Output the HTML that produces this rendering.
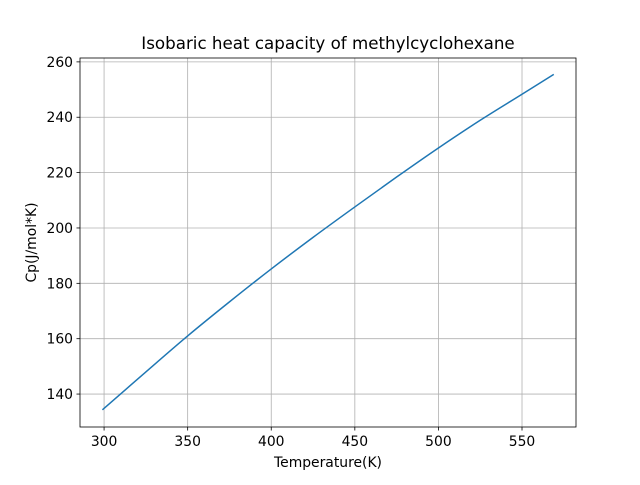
<!DOCTYPE html>
<html><head><meta charset="utf-8"><style>
body{margin:0;background:#fff;}
svg text{font-family:"DejaVu Sans","Liberation Sans",sans-serif;fill:#000;}
</style></head><body>
<svg id="chart" width="640" height="480" viewBox="0 0 640 480">
<rect width="640" height="480" fill="#fff"/>
<g id="grid"></g>
<g id="ticks"></g>
<path id="line" fill="none" stroke="#1f77b4" stroke-width="1.5"/>
<rect x="80" y="58" width="496" height="369" fill="none" stroke="#000" stroke-width="0.8"/>
<text x="328" y="49" text-anchor="middle" font-size="16.7">Isobaric heat capacity of methylcyclohexane</text>
<text x="328" y="467" text-anchor="middle" font-size="13.9">Temperature(K)</text>
<text transform="translate(36,242.5) rotate(-90)" text-anchor="middle" font-size="13.9">Cp(J/mol*K)</text>
</svg>
<script>
const temps=[299,325,350,375,400,425,450,475,500,525,550,569];
const cpValues=[134.3,148.0,161.0,173.3,185.2,196.6,207.6,218.4,228.9,238.9,248.3,255.5];
const xTicks=[300,350,400,450,500,550];
const yTicks=[140,160,180,200,220,240,260];
const X0=80,X1=576,Y0=427,Y1=58,xmin=285.6,xmax=582.3,ymin=128.1,ymax=261.4;
function sx(v){return X0+(v-xmin)/(xmax-xmin)*(X1-X0);}
function sy(v){return Y0-(v-ymin)/(ymax-ymin)*(Y0-Y1);}
const NS="http://www.w3.org/2000/svg";
const grid=document.getElementById('grid'),ticks=document.getElementById('ticks');
function mk(tag,attrs,parent,txt){const e=document.createElementNS(NS,tag);for(const k in attrs)e.setAttribute(k,attrs[k]);if(txt!==undefined)e.textContent=txt;parent.appendChild(e);return e;}
xTicks.forEach(t=>{const x=sx(t);
 const g=mk('line',{x1:x,x2:x,y1:Y1,y2:Y0,stroke:'#b0b0b0','stroke-width':0.8},grid);
 
 
 const tk=mk('line',{x1:x,x2:x,y1:Y0,y2:Y0+3.5,stroke:'#000','stroke-width':0.8},ticks);
 
 
 const lb=mk('text',{x:x,y:Y0+19,'text-anchor':'middle','font-size':13.9},ticks,String(t));
 
 
});
yTicks.forEach(t=>{const y=sy(t);
 const g=mk('line',{x1:X0,x2:X1,y1:y,y2:y,stroke:'#b0b0b0','stroke-width':0.8},grid);
 
 
 const tk=mk('line',{x1:X0-3.5,x2:X0,y1:y,y2:y,stroke:'#000','stroke-width':0.8},ticks);
 
 
 const lb=mk('text',{x:X0-7,y:y+5,'text-anchor':'end','font-size':13.9},ticks,String(t));
 
 
});
// smooth path through the data points (Catmull-Rom)
const pts=temps.map((t,i)=>[sx(t),sy(cpValues[i])]);
let d='M'+pts[0][0].toFixed(2)+','+pts[0][1].toFixed(2);
for(let i=0;i<pts.length-1;i++){
 const p0=pts[Math.max(i-1,0)],p1=pts[i],p2=pts[i+1],p3=pts[Math.min(i+2,pts.length-1)];
 const c1=[p1[0]+(p2[0]-p0[0])/6,p1[1]+(p2[1]-p0[1])/6];
 const c2=[p2[0]-(p3[0]-p1[0])/6,p2[1]-(p3[1]-p1[1])/6];
 d+='C'+c1.map(v=>v.toFixed(2)).join(',')+' '+c2.map(v=>v.toFixed(2)).join(',')+' '+p2.map(v=>v.toFixed(2)).join(',');
}
document.getElementById('line').setAttribute('d',d);
</script>
</body></html>
